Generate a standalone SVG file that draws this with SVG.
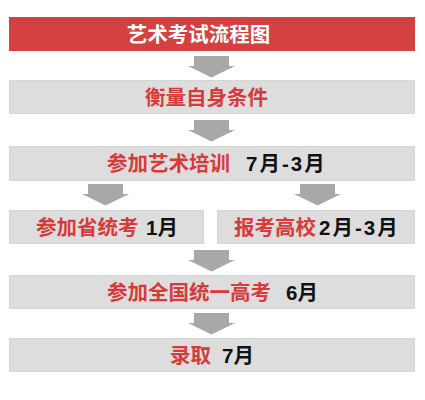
<svg xmlns="http://www.w3.org/2000/svg" width="425" height="400" viewBox="0 0 425 400">
<style>
.box{fill:#dddddd;stroke:#d6d6d6;stroke-width:1}
.arr{fill:#a8a8a8}
.t{font-family:"Noto Sans CJK SC","Liberation Sans",sans-serif;font-weight:bold;font-size:20.5px}
.r{fill:#d83a3a}
.k{fill:#111111;font-family:"Liberation Sans","Noto Sans CJK SC",sans-serif}
.ls{letter-spacing:2px}
.w{fill:#ffffff}
</style>
<defs>
<path id="a" d="M-17.5,0 H17.5 V10 H23.5 L0,21.5 L-23.5,10 H-17.5 Z"/>
</defs>
<rect width="425" height="400" fill="#ffffff"/>
<g id="connectors">
<use href="#a" class="arr" x="211.5" y="56"/>
<use href="#a" class="arr" x="211.5" y="120"/>
<use href="#a" class="arr" x="105.5" y="184"/>
<use href="#a" class="arr" x="317.5" y="184"/>
<use href="#a" class="arr" x="211.5" y="250"/>
<use href="#a" class="arr" x="211.5" y="313"/>
</g>
<g id="title">
<rect x="9" y="17" width="406" height="34" fill="#d34141"/>
<text class="t w" x="198.5" y="41.5" text-anchor="middle">艺术考试流程图</text>
</g>
<g id="n1">
<rect class="box" x="9.5" y="80.5" width="405" height="33"/>
<text class="t r" x="206.5" y="104.5" text-anchor="middle">衡量自身条件</text>
</g>
<g id="n2">
<rect class="box" x="9.5" y="146.5" width="405" height="34"/>
<text class="t r" x="107" y="171">参加艺术培训</text>
<text class="t k ls" x="246" y="171">7月-3月</text>
</g>
<g id="n3">
<rect class="box" x="9.5" y="210.5" width="194" height="33"/>
<text class="t r" x="36" y="234.5">参加省统考</text>
<text class="t k" x="146" y="234.5">1月</text>
</g>
<g id="n4">
<rect class="box" x="217.5" y="210.5" width="197" height="33"/>
<text class="t r" x="234" y="234.5">报考高校</text>
<text class="t k ls" x="319" y="234.5">2月-3月</text>
</g>
<g id="n5">
<rect class="box" x="9.5" y="275.5" width="405" height="33"/>
<text class="t r" x="107" y="299.5">参加全国统一高考</text>
<text class="t k" x="286" y="299.5">6月</text>
</g>
<g id="n6">
<rect class="box" x="9.5" y="338.5" width="405" height="33"/>
<text class="t r" x="170" y="362.5">录取</text>
<text class="t k" x="222" y="362.5">7月</text>
</g>
</svg>
